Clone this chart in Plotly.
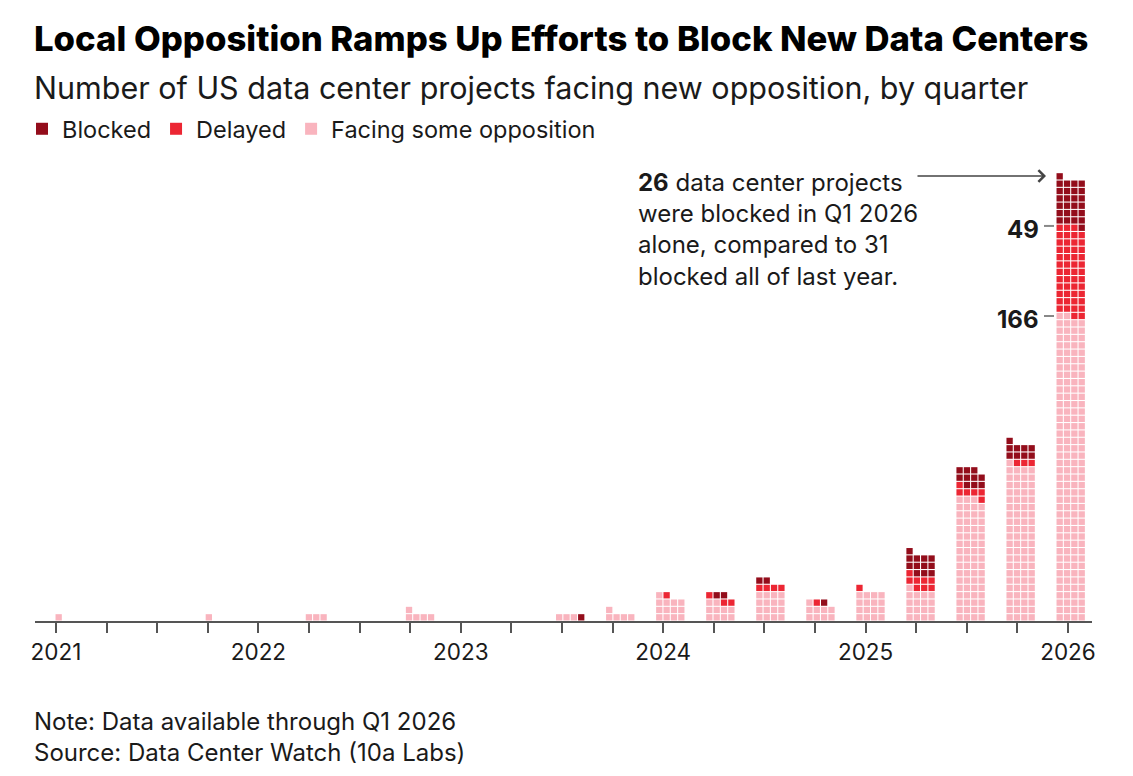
import plotly.graph_objects as go

# quarterly counts, Q1 2021 .. Q1 2026
quarters = ["2021 Q1", "2021 Q2", "2021 Q3", "2021 Q4",
            "2022 Q1", "2022 Q2", "2022 Q3", "2022 Q4",
            "2023 Q1", "2023 Q2", "2023 Q3", "2023 Q4",
            "2024 Q1", "2024 Q2", "2024 Q3", "2024 Q4",
            "2025 Q1", "2025 Q2", "2025 Q3", "2025 Q4",
            "2026 Q1"]
facing = [1, 0, 0, 1, 0, 3, 0, 5, 0, 0, 3, 5, 13, 10, 16, 9, 16, 17, 67, 85, 166]
delayed = [0, 0, 0, 0, 0, 0, 0, 0, 0, 0, 0, 0, 1, 3, 4, 1, 1, 8, 6, 3, 49]
blocked = [0, 0, 0, 0, 0, 0, 0, 0, 0, 0, 1, 0, 0, 2, 2, 1, 0, 12, 10, 9, 26]

COLORS = {"Blocked": "#930d1b", "Delayed": "#ec2633", "Facing some opposition": "#f9b4be"}
FONT = "Inter"
TEXT = "#1a1a1a"

# the page body adds an 8px margin, so the figure is 16px smaller than the window
W, H = 1117, 760
L, R, T, B = 27, 33, 142, 147
PW, PH = W - L - R, H - T - B
REF_L, REF_BOTTOM = 35, 621   # plot area edges in window pixels
TICK_PX = 50.6     # px per quarter on the axis
BAR_PX = 50.05     # px per quarter for the waffle columns
CELL = 7.35        # px per square
COLS = 4
BAR_SCALE = BAR_PX / TICK_PX
BAR_OFFSET = -1 / TICK_PX


def px_x(px):
    return (px - REF_L) / PW


def px_y(py):
    return (REF_BOTTOM - py) / PH


def bar_left(i):
    return i * BAR_SCALE + BAR_OFFSET


# lay squares out row by row, bottom-up: facing, then delayed, then blocked
pts = {k: ([], []) for k in COLORS}
for i in range(len(quarters)):
    k = 0
    for name, vals in (("Facing some opposition", facing), ("Delayed", delayed), ("Blocked", blocked)):
        for _ in range(vals[i]):
            row, col = divmod(k, COLS)
            pts[name][0].append(bar_left(i) + (col + 0.5) * CELL / TICK_PX)
            pts[name][1].append(row + 0.5)
            k += 1

fig = go.Figure()
for name in ["Blocked", "Delayed", "Facing some opposition"]:
    fig.add_trace(go.Scatter(
        x=pts[name][0], y=pts[name][1], mode="markers", name=name, hoverinfo="skip",
        marker=dict(symbol="square", size=CELL - 1.05, color=COLORS[name], line=dict(width=0)),
    ))

tickvals = list(range(len(quarters)))
ticktext = [q[:4] if q.endswith("Q1") else "" for q in quarters]

last = len(quarters) - 1
top_facing = facing[last] / COLS
top_delayed = (facing[last] + delayed[last]) / COLS
top_all = (facing[last] + delayed[last] + blocked[last]) / COLS
lx = bar_left(last)

paper = dict(xref="paper", yref="paper", showarrow=False)
annotations = [
    dict(text="Local Opposition Ramps Up Efforts to Block New Data Centers",
         x=px_x(32), y=px_y(38), xanchor="left", yanchor="middle",
         font=dict(family=FONT, size=34.7, weight=800, color="#000"), **paper),
    dict(text="Number of US data center projects facing new opposition, by quarter",
         x=px_x(32), y=px_y(87), xanchor="left", yanchor="middle",
         font=dict(family=FONT, size=30.5, color=TEXT), **paper),
    dict(text="<b>26</b> data center projects<br>were blocked in Q1 2026<br>alone, compared to 31<br>blocked all of last year.",
         x=px_x(636), y=px_y(166), xanchor="left", yanchor="top", align="left",
         font=dict(family=FONT, size=24, color=TEXT), **paper),
    dict(text="Note: Data available through Q1 2026<br>Source: Data Center Watch (10a Labs)",
         x=px_x(32), y=px_y(705), xanchor="left", yanchor="top", align="left",
         font=dict(family=FONT, size=24, color=TEXT), **paper),
    dict(text="", x=lx - 10 / TICK_PX, y=top_all + 0.3, xref="x", yref="y",
         ax=-130, ay=0, showarrow=True, arrowhead=4, arrowsize=1.4, arrowwidth=1.6, arrowcolor="#444"),
    dict(text="<b>%d</b>" % delayed[last], x=lx - 15 / TICK_PX, y=top_delayed, xref="x", yref="y",
         xanchor="right", yanchor="middle", yshift=-4, showarrow=False,
         font=dict(family=FONT, size=24, color=TEXT)),
    dict(text="<b>%d</b>" % facing[last], x=lx - 15 / TICK_PX, y=top_facing, xref="x", yref="y",
         xanchor="right", yanchor="middle", yshift=-4, showarrow=False,
         font=dict(family=FONT, size=24, color=TEXT)),
]

shapes = [
    dict(type="line", xref="x", yref="y", x0=lx - 12 / TICK_PX, x1=lx - 2 / TICK_PX,
         y0=y, y1=y, line=dict(color="#888", width=2))
    for y in (top_delayed, top_facing)
]

fig.update_layout(
    width=W, height=H,
    margin=dict(l=L, r=R, t=T, b=B, autoexpand=False),
    paper_bgcolor="white", plot_bgcolor="white",
    font=dict(family=FONT, color=TEXT),
    showlegend=True,
    legend=dict(orientation="h", x=px_x(22), y=px_y(107), xanchor="left", yanchor="top",
                itemsizing="constant", font=dict(family=FONT, size=23.5, color=TEXT),
                traceorder="normal", bgcolor="rgba(0,0,0,0)"),
    xaxis=dict(range=[-21 / TICK_PX, (PW - 21) / TICK_PX], tickvals=tickvals, ticktext=ticktext,
               showgrid=False, zeroline=False, showline=True, linecolor="#555", linewidth=2,
               ticks="outside", ticklen=10, tickwidth=2, tickcolor="#555",
               tickfont=dict(family=FONT, size=22.5, color=TEXT), fixedrange=True),
    yaxis=dict(range=[0, PH / CELL], visible=False, fixedrange=True),
    annotations=annotations,
    shapes=shapes,
)

fig.write_html("out.html")
